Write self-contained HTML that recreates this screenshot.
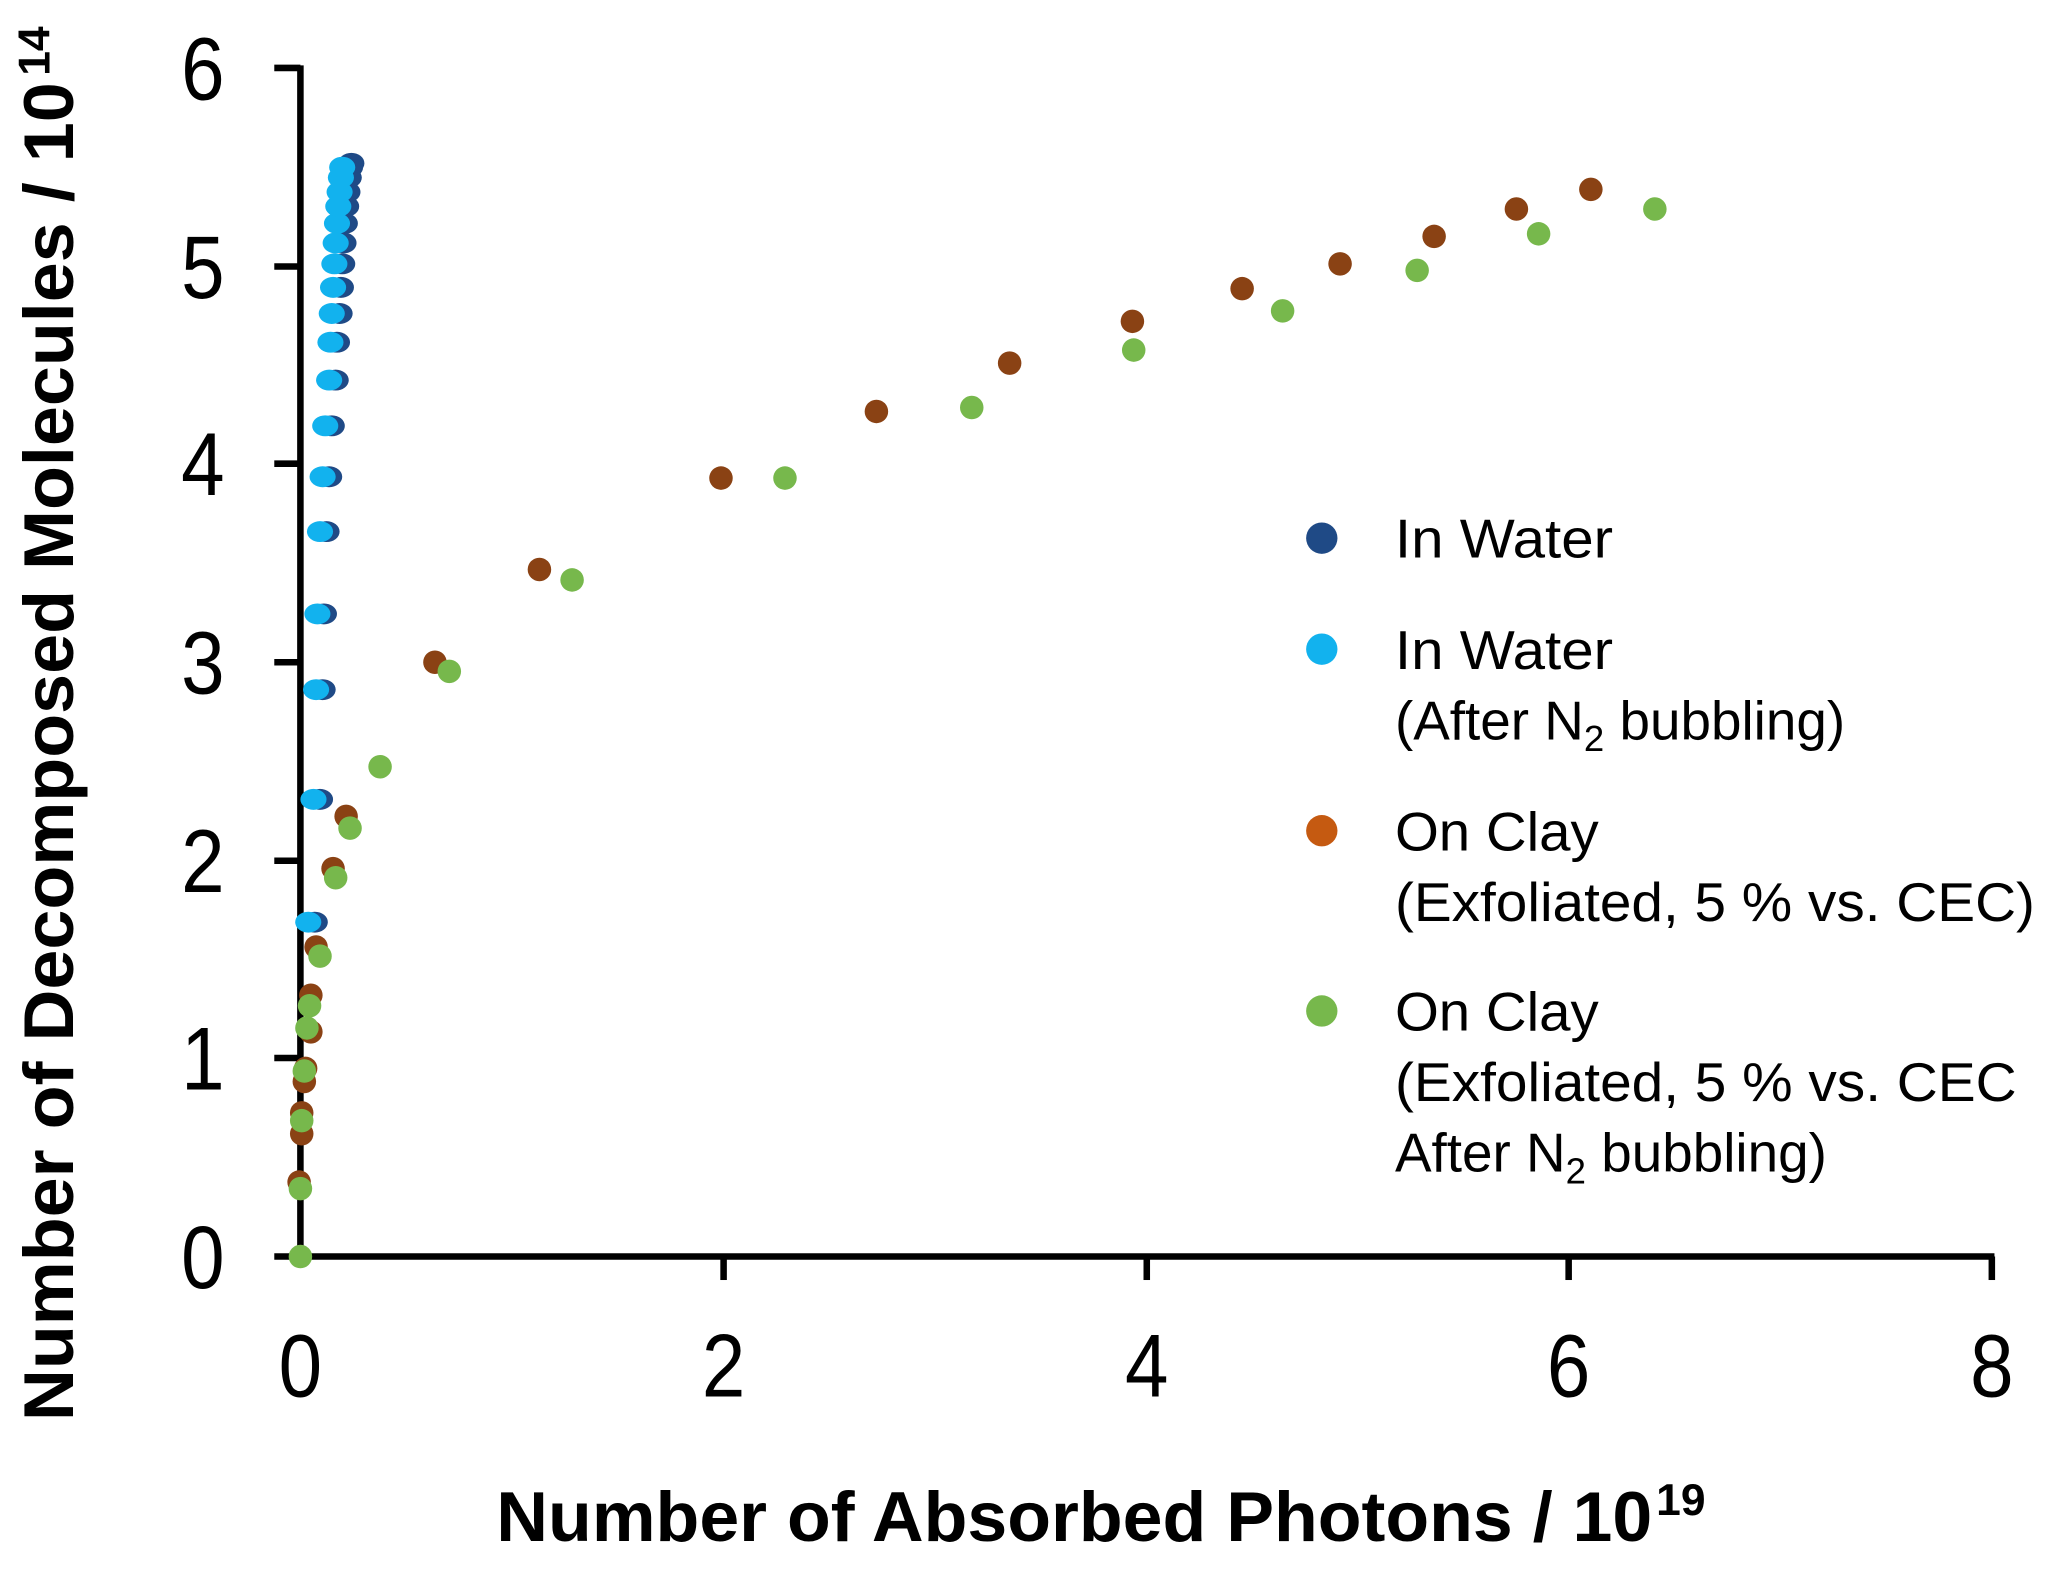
<!DOCTYPE html>
<html><head><style>
html,body{margin:0;padding:0;background:#fff;}
svg{display:block;}
text{font-family:"Liberation Sans",Arial,sans-serif;fill:#000;}
</style></head><body>
<svg width="2048" height="1570" viewBox="0 0 1568 1202" xmlns="http://www.w3.org/2000/svg">
<rect width="1568" height="1202" fill="#fff"/>
<g stroke="#000" stroke-width="5" fill="none">
<line x1="230" y1="50" x2="230" y2="965"/>
<line x1="228" y1="962" x2="1527" y2="962"/>
<line x1="210" y1="52" x2="230" y2="52"/>
<line x1="210" y1="204" x2="230" y2="204"/>
<line x1="210" y1="355" x2="230" y2="355"/>
<line x1="210" y1="507" x2="230" y2="507"/>
<line x1="210" y1="659" x2="230" y2="659"/>
<line x1="210" y1="810" x2="230" y2="810"/>
<line x1="210" y1="962" x2="230" y2="962"/>
<line x1="554" y1="962" x2="554" y2="980"/>
<line x1="878" y1="962" x2="878" y2="980"/>
<line x1="1201" y1="962" x2="1201" y2="980"/>
<line x1="1525" y1="962" x2="1525" y2="980"/>
</g>
<g font-size="68" text-anchor="end">
<text x="172" y="76" transform="translate(172,0) scale(0.88,1) translate(-172,0)">6</text>
<text x="172" y="228" transform="translate(172,0) scale(0.88,1) translate(-172,0)">5</text>
<text x="172" y="379" transform="translate(172,0) scale(0.88,1) translate(-172,0)">4</text>
<text x="172" y="531" transform="translate(172,0) scale(0.88,1) translate(-172,0)">3</text>
<text x="172" y="683" transform="translate(172,0) scale(0.88,1) translate(-172,0)">2</text>
<text x="172" y="834" transform="translate(172,0) scale(0.88,1) translate(-172,0)">1</text>
<text x="172" y="986" transform="translate(172,0) scale(0.88,1) translate(-172,0)">0</text>
</g>
<g font-size="68" text-anchor="middle">
<text x="230" y="1069" transform="translate(230,0) scale(0.88,1) translate(-230,0)">0</text>
<text x="554" y="1069" transform="translate(554,0) scale(0.88,1) translate(-554,0)">2</text>
<text x="878" y="1069" transform="translate(878,0) scale(0.88,1) translate(-878,0)">4</text>
<text x="1201" y="1069" transform="translate(1201,0) scale(0.88,1) translate(-1201,0)">6</text>
<text x="1525" y="1069" transform="translate(1525,0) scale(0.88,1) translate(-1525,0)">8</text>
</g>
<text x="380" y="1180" font-size="54" font-weight="bold" textLength="885" lengthAdjust="spacingAndGlyphs">Number of Absorbed Photons / 10</text>
<text x="1268" y="1160" font-size="34" font-weight="bold">19</text>
<g transform="translate(56,1088) rotate(-90)">
<text x="0" y="0" font-size="54" font-weight="bold" textLength="1025" lengthAdjust="spacingAndGlyphs">Number of Decomposed Molecules / 10</text>
<text x="1030" y="-18" font-size="34" font-weight="bold">14</text>
</g>
<g fill="#8a4214">
<circle cx="229" cy="905" r="9"/><circle cx="231" cy="868" r="9"/><circle cx="231" cy="852" r="9"/><circle cx="233" cy="828" r="9"/><circle cx="234" cy="818" r="9"/><circle cx="238" cy="790" r="9"/><circle cx="238" cy="762" r="9"/><circle cx="242" cy="725" r="9"/><circle cx="255" cy="665" r="9"/><circle cx="265" cy="625" r="9"/><circle cx="333" cy="507" r="9"/><circle cx="413" cy="436" r="9"/><circle cx="552" cy="366" r="9"/><circle cx="671" cy="315" r="9"/><circle cx="773" cy="278" r="9"/><circle cx="867" cy="246" r="9"/><circle cx="951" cy="221" r="9"/><circle cx="1026" cy="202" r="9"/><circle cx="1098" cy="181" r="9"/><circle cx="1161" cy="160" r="9"/><circle cx="1218" cy="145" r="9"/>
</g>
<g fill="#77b84c">
<circle cx="230" cy="962" r="9"/><circle cx="230" cy="910" r="9"/><circle cx="231" cy="858" r="9"/><circle cx="233" cy="820" r="9"/><circle cx="235" cy="787" r="9"/><circle cx="237" cy="770" r="9"/><circle cx="245" cy="732" r="9"/><circle cx="257" cy="672" r="9"/><circle cx="268" cy="634" r="9"/><circle cx="291" cy="587" r="9"/><circle cx="344" cy="514" r="9"/><circle cx="438" cy="444" r="9"/><circle cx="601" cy="366" r="9"/><circle cx="744" cy="312" r="9"/><circle cx="868" cy="268" r="9"/><circle cx="982" cy="238" r="9"/><circle cx="1085" cy="207" r="9"/><circle cx="1178" cy="179" r="9"/><circle cx="1267" cy="160" r="9"/>
</g>
<g fill="#1f4a86">
<ellipse cx="241" cy="706" rx="10" ry="8"/><ellipse cx="245" cy="612" rx="10" ry="8"/><ellipse cx="247" cy="528" rx="10" ry="8"/><ellipse cx="248" cy="470" rx="10" ry="8"/><ellipse cx="250" cy="407" rx="10" ry="8"/><ellipse cx="252" cy="365" rx="10" ry="8"/><ellipse cx="254" cy="326" rx="10" ry="8"/><ellipse cx="257" cy="291" rx="10" ry="8"/><ellipse cx="258" cy="262" rx="10" ry="8"/><ellipse cx="260" cy="240" rx="10" ry="8"/><ellipse cx="261" cy="220" rx="10" ry="8"/><ellipse cx="262" cy="202" rx="10" ry="8"/><ellipse cx="263" cy="186" rx="10" ry="8"/><ellipse cx="264" cy="171" rx="10" ry="8"/><ellipse cx="265" cy="158" rx="10" ry="8"/><ellipse cx="266" cy="147" rx="10" ry="8"/><ellipse cx="267" cy="136" rx="10" ry="8"/><ellipse cx="268" cy="128" rx="10" ry="8"/><ellipse cx="269" cy="125" rx="10" ry="8"/>
</g>
<g fill="#12b2ee">
<ellipse cx="236" cy="706" rx="10" ry="8"/><ellipse cx="240" cy="612" rx="10" ry="8"/><ellipse cx="242" cy="528" rx="10" ry="8"/><ellipse cx="243" cy="470" rx="10" ry="8"/><ellipse cx="245" cy="407" rx="10" ry="8"/><ellipse cx="247" cy="365" rx="10" ry="8"/><ellipse cx="249" cy="326" rx="10" ry="8"/><ellipse cx="252" cy="291" rx="10" ry="8"/><ellipse cx="253" cy="262" rx="10" ry="8"/><ellipse cx="254" cy="240" rx="10" ry="8"/><ellipse cx="255" cy="220" rx="10" ry="8"/><ellipse cx="256" cy="202" rx="10" ry="8"/><ellipse cx="257" cy="186" rx="10" ry="8"/><ellipse cx="258" cy="171" rx="10" ry="8"/><ellipse cx="259" cy="158" rx="10" ry="8"/><ellipse cx="260" cy="147" rx="10" ry="8"/><ellipse cx="261" cy="136" rx="10" ry="8"/><ellipse cx="262" cy="128" rx="10" ry="8"/>
</g>
<circle cx="1012" cy="412" r="12" fill="#1f4a86"/>
<circle cx="1012" cy="497" r="12" fill="#12b2ee"/>
<circle cx="1012" cy="636" r="12" fill="#c55a11"/>
<circle cx="1012" cy="774" r="12" fill="#77b84c"/>
<g font-size="42">
<text x="1068" y="427" textLength="167" lengthAdjust="spacingAndGlyphs">In Water</text>
<text x="1068" y="512" textLength="167" lengthAdjust="spacingAndGlyphs">In Water</text>
<text x="1068" y="566">(After N<tspan font-size="28" dy="9">2</tspan><tspan dy="-9"> bubbling)</tspan></text>
<text x="1068" y="651" textLength="156" lengthAdjust="spacingAndGlyphs">On Clay</text>
<text x="1068" y="705" textLength="490" lengthAdjust="spacingAndGlyphs">(Exfoliated, 5 % vs. CEC)</text>
<text x="1068" y="789" textLength="156" lengthAdjust="spacingAndGlyphs">On Clay</text>
<text x="1068" y="843" textLength="476" lengthAdjust="spacingAndGlyphs">(Exfoliated, 5 % vs. CEC</text>
<text x="1068" y="897">After N<tspan font-size="28" dy="9">2</tspan><tspan dy="-9"> bubbling)</tspan></text>
</g>
</svg>
</body></html>
